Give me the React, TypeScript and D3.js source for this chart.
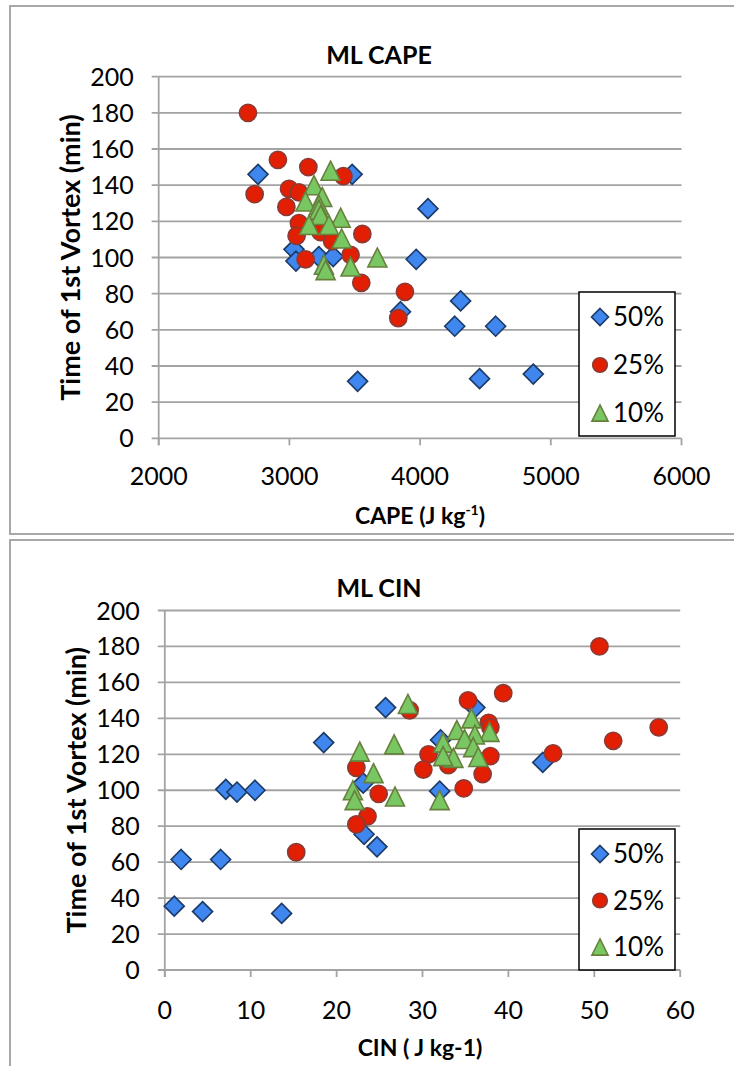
import React from "react";
import * as d3 from "d3";

// [CAPE, time] pairs
const capeP50: [number, number][] = [
  [2760, 146], [3480, 146], [4060, 127], [3035, 104.5], [3050, 98], [3225, 100.5],
  [3335, 100.5], [3970, 99], [4310, 76], [3850, 70], [4265, 62], [4578, 62],
  [4866, 35.5], [4455, 33], [3522, 31.5],
];
const capeP25: [number, number][] = [
  [2683, 180], [2912, 154], [3145, 150], [3413, 145], [2734, 135], [2997, 138],
  [3073, 136], [2977, 128], [3073, 119], [3055, 112], [3239, 114], [3558, 113],
  [3327, 109], [3124, 99], [3468, 101.5], [3550, 86], [3884, 81], [3833, 66.5],
];
const capeP10: [number, number][] = [
  [3315, 148], [3188, 140], [3123, 131], [3251, 133.5], [3226, 129], [3226, 126.5],
  [3239, 123.5], [3392, 122], [3150, 118], [3303, 118], [3400, 110.5], [3264, 96],
  [3277, 93], [3468, 95], [3673, 100],
];

// [CIN, time] pairs
const cinP50: [number, number][] = [
  [1.1, 35.5], [1.9, 61.5], [6.5, 61.5], [4.4, 32.5], [13.6, 31.5], [7.1, 100.5],
  [8.4, 99], [10.5, 100], [18.5, 126.5], [25.7, 146], [23.1, 104], [23.2, 75.5],
  [24.7, 68.5], [32.0, 99.5], [32.1, 128], [36.1, 146], [44.0, 115.5],
];
const cinP25: [number, number][] = [
  [50.6, 180], [39.4, 154], [35.3, 150], [28.5, 144.5], [37.7, 137.5], [37.9, 135],
  [57.5, 135], [52.2, 127.5], [45.2, 120.5], [30.7, 120], [37.9, 119], [33, 114],
  [30.1, 111.5], [37, 109], [22.3, 112.5], [34.8, 101], [24.9, 98], [23.6, 85.5],
  [22.3, 81], [15.3, 65.5],
];
const cinP10: [number, number][] = [
  [28.3, 148], [35.7, 140], [34.0, 133.5], [37.8, 132.5], [36.1, 131], [34.9, 128.5],
  [32.4, 126.5], [26.7, 125.5], [35.9, 124], [22.7, 121.5], [33.6, 118], [32.4, 119],
  [36.5, 118.5], [24.3, 109.5], [21.9, 100], [26.8, 96.5], [22.1, 94.5], [32.0, 94.5],
];

const seriesNames = ["50%", "25%", "10%"];
const yTicks = [0, 20, 40, 60, 80, 100, 120, 140, 160, 180, 200];
const capeTicks = [2000, 3000, 4000, 5000, 6000];
const cinTicks = [0, 10, 20, 30, 40, 50, 60];

const FONT = "Lato, 'Open Sans', sans-serif";
const GRID = "#a3a3a3";

const styles = [
  { shape: "diamond", fill: "#3f86ee", stroke: "#1b3a66" },
  { shape: "circle", fill: "#e21f02", stroke: "#8a3b36" },
  { shape: "triangle", fill: "#79c763", stroke: "#67803c" },
];

const Marker = ({ x, y, i, k = 1 }: { x: number; y: number; i: number; k?: number }) => {
  const s = styles[i];
  if (s.shape === "diamond") {
    const r = 10 * k;
    return (
      <path
        d={`M${x},${y - r}L${x + r},${y}L${x},${y + r}L${x - r},${y}Z`}
        fill={s.fill}
        stroke={s.stroke}
        strokeWidth={1.6}
      />
    );
  }
  if (s.shape === "circle") {
    return <circle cx={x} cy={y} r={8.6 * k} fill={s.fill} stroke={s.stroke} strokeWidth={1.6} />;
  }
  const h = 9.5 * k;
  return (
    <path
      d={`M${x},${y - h}L${x + h},${y + h}L${x - h},${y + h}Z`}
      fill={s.fill}
      stroke={s.stroke}
      strokeWidth={1.6}
    />
  );
};

interface PanelProps {
  top: number;
  height: number;
  title: string;
  xLabel: React.ReactNode;
  series: [number, number][][];
  xDomain: [number, number];
  xTicks: number[];
  xRange: [number, number];
  yRange: [number, number];
  legendTop: number;
  legendHeight: number;
  xTickDy: number;
  xLabelY: number;
  titleY: number;
  yLabelX: number;
}

const Panel = (p: PanelProps) => {
  const x = d3.scaleLinear().domain(p.xDomain).range(p.xRange);
  const y = d3.scaleLinear().domain([0, 200]).range(p.yRange);
  const [x0, x1] = p.xRange;
  const yMid = (p.yRange[0] + p.yRange[1]) / 2;
  const lx = 579;
  return (
    <g>
      <rect x={10} y={p.top} width={740} height={p.height} fill="#fff" stroke="#a8a8a8" strokeWidth={2} />
      {yTicks.map((t) => (
        <g key={t}>
          <line x1={x0 - 7} x2={x1} y1={y(t)} y2={y(t)} stroke={GRID} strokeWidth={1.8} />
          <text x={x0 - 25} y={y(t)} dy="0.36em" textAnchor="end" fontSize={25} fontFamily={FONT}>
            {t}
          </text>
        </g>
      ))}
      <line x1={x0} x2={x0} y1={y(200)} y2={y(0) + 7} stroke={GRID} strokeWidth={1.8} />
      {p.xTicks.map((t) => (
        <g key={t}>
          <line x1={x(t)} x2={x(t)} y1={y(0)} y2={y(0) + 7} stroke={GRID} strokeWidth={1.8} />
          <text x={x(t)} y={y(0) + p.xTickDy} textAnchor="middle" fontSize={25} fontFamily={FONT}>
            {t}
          </text>
        </g>
      ))}
      {p.series.map((s, i) => (
        <g key={i}>
          {s.map((d, j) => (
            <Marker key={j} x={x(d[0])} y={y(d[1])} i={i} />
          ))}
        </g>
      ))}
      <text x={379} y={p.titleY} textAnchor="middle" fontSize={25} fontWeight="bold" fontFamily={FONT}>
        {p.title}
      </text>
      <text
        transform={`translate(${p.yLabelX},${yMid}) rotate(-90)`}
        textAnchor="middle"
        fontSize={27}
        fontWeight="bold"
        fontFamily={FONT}
      >
        Time of 1st Vortex (min)
      </text>
      <text x={420} y={p.xLabelY} textAnchor="middle" fontSize={23} fontWeight="bold" fontFamily={FONT}>
        {p.xLabel}
      </text>
      <rect x={lx} y={p.legendTop} width={96} height={p.legendHeight} fill="#fff" stroke="#000" strokeWidth={1.5} />
      {seriesNames.map((n, i) => {
        const cy = p.legendTop + 25 + i * ((p.legendHeight - 48) / 2);
        return (
          <g key={n}>
            <Marker x={lx + 21} y={cy} i={i} k={0.85} />
            <text x={lx + 34} y={cy} dy="0.36em" fontSize={26} fontFamily={FONT}>
              {n}
            </text>
          </g>
        );
      })}
    </g>
  );
};

export default function App() {
  return (
    <svg width={734} height={1066} style={{ position: "absolute", left: 0, top: 0, background: "#fff" }}>
      <Panel
        top={6}
        height={528}
        title="ML CAPE"
        xLabel={
          <>
            CAPE (J kg
            <tspan dy={-9} fontSize={14}>
              -1
            </tspan>
            <tspan dy={9}>)</tspan>
          </>
        }
        series={[capeP50, capeP25, capeP10]}
        xDomain={[2000, 6000]}
        xTicks={capeTicks}
        xRange={[158.7, 681.5]}
        yRange={[438.3, 76.7]}
        legendTop={292}
        legendHeight={144}
        xTickDy={47}
        xLabelY={524}
        titleY={64}
        yLabelX={80}
      />
      <Panel
        top={540}
        height={540}
        title="ML CIN"
        xLabel="CIN ( J kg-1)"
        series={[cinP50, cinP25, cinP10]}
        xDomain={[0, 60]}
        xTicks={cinTicks}
        xRange={[164.8, 680.2]}
        yRange={[970, 610.5]}
        legendTop={829}
        legendHeight={141}
        xTickDy={49}
        xLabelY={1056}
        titleY={597}
        yLabelX={86}
      />
    </svg>
  );
}
